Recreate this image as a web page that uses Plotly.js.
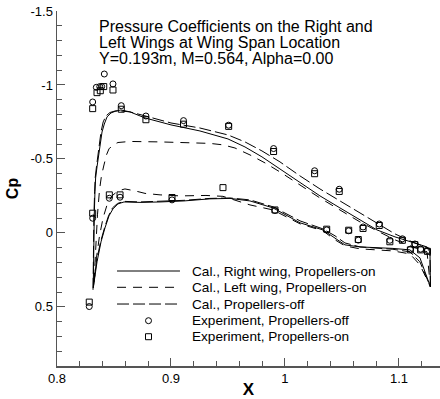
<!DOCTYPE html>
<html>
<head>
<meta charset="utf-8">
<script src="https://cdn.plot.ly/plotly-3.0.1.min.js"></script>
<style>
  html, body { margin: 0; padding: 0; background: #fff; }
  #chart { width: 440px; height: 399px; }
</style>
</head>
<body>
<div id="chart"></div>
<script>
// ---- Computed Cp distributions (x in m, Cp) ----
// Right wing, propellers on
const rightUpperX = [0.8318, 0.8321, 0.8327, 0.8333, 0.8339, 0.8351, 0.8362, 0.8377, 0.8395, 0.8415, 0.8439, 0.8474, 0.8518, 0.8561, 0.8640, 0.8772, 0.8904, 0.9000, 0.9254, 0.9500, 0.9649, 0.9798, 0.9956, 1.0132, 1.0307, 1.0482, 1.0658, 1.0807, 1.0965, 1.1096, 1.1246, 1.1272, 1.1276];
const rightUpperCp = [0.372, 0.115, -0.122, -0.277, -0.372, -0.446, -0.514, -0.601, -0.682, -0.736, -0.784, -0.811, -0.824, -0.831, -0.818, -0.777, -0.750, -0.730, -0.689, -0.635, -0.581, -0.514, -0.432, -0.338, -0.250, -0.169, -0.088, -0.020, 0.027, 0.061, 0.095, 0.115, 0.365];
const rightLowerX = [0.8318, 0.8351, 0.8386, 0.8421, 0.8456, 0.8491, 0.8535, 0.8588, 0.8728, 0.8904, 0.9114, 0.9342, 0.9518, 0.9693, 0.9895, 1.0132, 1.0333, 1.0439, 1.0526, 1.0658, 1.0947, 1.1096, 1.1184, 1.1276];
const rightLowerCp = [0.372, 0.196, 0.061, -0.034, -0.115, -0.162, -0.196, -0.209, -0.206, -0.209, -0.216, -0.230, -0.233, -0.216, -0.169, -0.068, -0.020, 0.034, 0.081, 0.095, 0.105, 0.115, 0.169, 0.365];

// Left wing, propellers on
const leftUpperX = [0.8325, 0.8338, 0.8355, 0.8373, 0.8390, 0.8412, 0.8434, 0.8456, 0.8491, 0.8535, 0.8640, 0.8904, 0.9167, 0.9342, 0.9456, 0.9561, 0.9693, 0.9825, 0.9956, 1.0132, 1.0307, 1.0482, 1.0658, 1.0807, 1.0965, 1.1096, 1.1246, 1.1276];
const leftUpperCp = [0.331, 0.115, -0.122, -0.291, -0.385, -0.459, -0.527, -0.568, -0.595, -0.611, -0.618, -0.615, -0.608, -0.605, -0.595, -0.574, -0.527, -0.473, -0.412, -0.324, -0.236, -0.155, -0.074, -0.014, 0.047, 0.088, 0.128, 0.365];
const leftLowerX = [0.8325, 0.8346, 0.8373, 0.8404, 0.8439, 0.8482, 0.8535, 0.8596, 0.8684, 0.8772, 0.8904, 0.9079, 0.9307, 0.9456, 0.9561, 0.9693, 0.9895, 1.0132, 1.0333, 1.0439, 1.0526, 1.0658, 1.0947, 1.1096, 1.1184, 1.1276];
const leftLowerCp = [0.331, 0.169, 0.020, -0.101, -0.189, -0.250, -0.284, -0.297, -0.284, -0.267, -0.257, -0.250, -0.253, -0.247, -0.223, -0.189, -0.155, -0.061, -0.014, 0.047, 0.088, 0.108, 0.122, 0.142, 0.216, 0.365];

// Propellers off
const offUpperX = [0.8316, 0.8318, 0.8324, 0.8330, 0.8335, 0.8346, 0.8356, 0.8370, 0.8386, 0.8405, 0.8430, 0.8465, 0.8509, 0.8561, 0.8640, 0.8772, 0.8904, 0.9000, 0.9254, 0.9500, 0.9649, 0.9798, 0.9956, 1.0132, 1.0307, 1.0482, 1.0658, 1.0807, 1.0965, 1.1096, 1.1246, 1.1272, 1.1276];
const offUpperCp = [0.385, 0.115, -0.122, -0.277, -0.372, -0.446, -0.514, -0.601, -0.682, -0.750, -0.791, -0.814, -0.824, -0.824, -0.818, -0.791, -0.764, -0.743, -0.709, -0.662, -0.615, -0.554, -0.480, -0.385, -0.297, -0.216, -0.135, -0.061, 0.007, 0.054, 0.101, 0.128, 0.365];
const offLowerX = [0.8316, 0.8346, 0.8382, 0.8417, 0.8452, 0.8487, 0.8531, 0.8588, 0.8728, 0.8904, 0.9114, 0.9342, 0.9518, 0.9693, 0.9895, 1.0132, 1.0333, 1.0439, 1.0526, 1.0658, 1.0947, 1.1096, 1.1184, 1.1276];
const offLowerCp = [0.385, 0.196, 0.061, -0.034, -0.115, -0.169, -0.199, -0.213, -0.209, -0.213, -0.220, -0.233, -0.236, -0.223, -0.176, -0.081, -0.027, 0.020, 0.068, 0.095, 0.111, 0.128, 0.196, 0.365];

// ---- Experiment ----
const expOffX = [0.8313, 0.8345, 0.8375, 0.8392, 0.8415, 0.8491, 0.8564, 0.8780, 0.9110, 0.9506, 0.9900, 1.0260, 1.0476, 1.0685, 1.0827, 1.0920, 1.1030, 1.1140, 1.1190, 1.1250,
                 0.8283, 0.8313, 0.8459, 0.8553, 0.9009, 0.9912, 1.0366, 1.0559, 1.0643, 1.1100];
const expOffCp = [-0.885, -0.984, -0.989, -0.989, -1.074, -1.007, -0.860, -0.790, -0.759, -0.728, -0.570, -0.420, -0.295, -0.040, -0.060, 0.050, 0.040, 0.075, 0.110, 0.120,
                  0.498, -0.099, -0.234, -0.241, -0.223, -0.151, -0.020, -0.014, 0.049, 0.110];
const expOnX = [0.8313, 0.8351, 0.8380, 0.8410, 0.8491, 0.8564, 0.8780, 0.9110, 0.9506, 0.9900, 1.0260, 1.0476, 1.0685, 1.0827, 1.0920, 1.1030, 1.1140, 1.1190, 1.1250,
                0.8283, 0.8313, 0.8459, 0.8553, 0.9009, 0.9456, 0.9912, 1.0366, 1.0559, 1.0643, 1.1100];
const expOnCp = [-0.840, -0.948, -0.961, -0.989, -0.966, -0.836, -0.765, -0.735, -0.720, -0.550, -0.400, -0.280, -0.030, -0.050, 0.060, 0.050, 0.080, 0.115, 0.125,
                 0.468, -0.133, -0.257, -0.257, -0.239, -0.306, -0.155, -0.025, -0.018, 0.045, 0.115];

// ---- Axis ticks ----
const xTickVals = [0.8, 0.9, 1.0, 1.1];
const xTickText = ['0.8', '0.9', '1', '1.1'];
const yTickVals = [-1.5, -1, -0.5, 0, 0.5];
const yTickText = ['-1.5', '-1', '-0.5', '0', '0.5'];

// ---- Titles and legend text ----
const titleLines = [
  'Pressure Coefficients on the Right and',
  'Left Wings at Wing Span Location',
  'Y=0.193m, M=0.564, Alpha=0.00'
];
const legendLabels = [
  'Cal., Right wing, Propellers-on',
  'Cal., Left wing, Propellers-on',
  'Cal., Propellers-off',
  'Experiment, Propellers-off',
  'Experiment, Propellers-on'
];

const FONT = 'Liberation Sans, Arial, sans-serif';
const INK = '#000';

const styles = [
  { width: 1.0, dash: 'solid' },
  { width: 1.0, dash: '9px,7px' },
  { width: 1.0, dash: '12px,4px' }
];

// Join upper (LE -> TE) and lower (TE -> LE) into one closed outline
function loop(ux, uy, lx, ly) {
  return {
    x: ux.concat(lx.slice().reverse()),
    y: uy.concat(ly.slice().reverse())
  };
}

const curves = [
  loop(rightUpperX, rightUpperCp, rightLowerX, rightLowerCp),
  loop(leftUpperX, leftUpperCp, leftLowerX, leftLowerCp),
  loop(offUpperX, offUpperCp, offLowerX, offLowerCp)
];

const traces = [];
curves.forEach((c, i) => {
  traces.push({
    type: 'scatter', mode: 'lines', x: c.x, y: c.y,
    line: { color: INK, width: styles[i].width, dash: styles[i].dash },
    hoverinfo: 'skip', showlegend: false
  });
});
traces.push({
  type: 'scatter', mode: 'markers', x: expOffX, y: expOffCp,
  marker: { symbol: 'circle-open', size: 6, color: INK, line: { width: 1, color: INK } },
  showlegend: false, cliponaxis: false
});
traces.push({
  type: 'scatter', mode: 'markers', x: expOnX, y: expOnCp,
  marker: { symbol: 'square-open', size: 6, color: INK, line: { width: 1, color: INK } },
  showlegend: false, cliponaxis: false
});

// Legend key, drawn on an overlay with unit ranges
const keyX0 = 0.1567, keyX1 = 0.3211, keyMid = 0.2389, keyTextX = 0.347;
const keyY = [0.2676, 0.2217, 0.1746, 0.1276, 0.0825];
for (let i = 0; i < 3; i++) {
  traces.push({
    type: 'scatter', mode: 'lines', xaxis: 'x2', yaxis: 'y2',
    x: [keyX0, keyX1], y: [keyY[i], keyY[i]],
    line: { color: INK, width: styles[i].width, dash: styles[i].dash },
    hoverinfo: 'skip', showlegend: false
  });
}
traces.push({
  type: 'scatter', mode: 'markers', xaxis: 'x2', yaxis: 'y2',
  x: [keyMid], y: [keyY[3]],
  marker: { symbol: 'circle-open', size: 6, color: INK, line: { width: 1, color: INK } },
  hoverinfo: 'skip', showlegend: false
});
traces.push({
  type: 'scatter', mode: 'markers', xaxis: 'x2', yaxis: 'y2',
  x: [keyMid], y: [keyY[4]],
  marker: { symbol: 'square-open', size: 6, color: INK, line: { width: 1, color: INK } },
  hoverinfo: 'skip', showlegend: false
});

const annotations = [];
const titleY = [0.955, 0.91, 0.865];
titleLines.forEach((t, i) => {
  annotations.push({
    text: t, xref: 'paper', yref: 'paper', x: 0.1044, y: titleY[i],
    xanchor: 'left', yanchor: 'middle', showarrow: false,
    font: { family: FONT, size: 16, color: INK }
  });
});
legendLabels.forEach((t, i) => {
  annotations.push({
    text: t, xref: 'paper', yref: 'paper', x: keyTextX, y: keyY[i],
    xanchor: 'left', yanchor: 'middle', showarrow: false,
    font: { family: FONT, size: 13.6, color: INK }
  });
});

const axisCommon = {
  showgrid: false, zeroline: false, showline: true,
  linecolor: '#555', linewidth: 1.5,
  ticks: 'inside', ticklen: 8, tickwidth: 1, tickcolor: '#555',
  tickfont: { family: FONT, size: 13, color: INK },
  tickmode: 'array'
};

const layout = {
  width: 440, height: 399,
  margin: { l: 57, r: 0, t: 11, b: 33 },
  paper_bgcolor: '#fff', plot_bgcolor: '#fff',
  showlegend: false,
  xaxis: Object.assign({}, axisCommon, {
    range: [0.8, 1.136],
    tickvals: xTickVals, ticktext: xTickText,
    minor: { tickmode: 'linear', tick0: 0.8, dtick: 0.02, ticks: 'inside', ticklen: 5, tickwidth: 1, tickcolor: '#555', showgrid: false },
    title: { text: '<b>X</b>', font: { family: FONT, size: 17, color: INK }, standoff: 4 }
  }),
  yaxis: Object.assign({}, axisCommon, {
    range: [0.9, -1.5],
    tickvals: yTickVals, ticktext: yTickText,
    minor: { tickmode: 'linear', tick0: 0, dtick: 0.1, ticks: 'inside', ticklen: 5, tickwidth: 1, tickcolor: '#555', showgrid: false },
    title: { text: '<b>Cp</b>', font: { family: FONT, size: 16, color: INK }, standoff: 8 }
  }),
  xaxis2: { overlaying: 'x', range: [0, 1], visible: false, fixedrange: true },
  yaxis2: { overlaying: 'y', range: [0, 1], visible: false, fixedrange: true },
  annotations: annotations
};

Plotly.newPlot('chart', traces, layout, { staticPlot: true, displayModeBar: false });
</script>
</body>
</html>
